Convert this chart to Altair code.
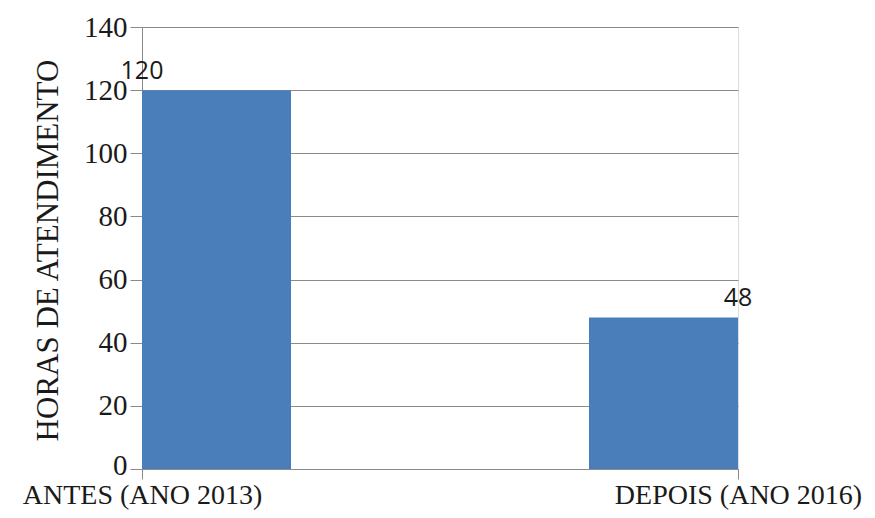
import altair as alt
import pandas as pd

categories = ["ANTES (ANO 2013)", "DEPOIS (ANO 2016)"]
values = [120, 48]
y_ticks = [0, 20, 40, 60, 80, 100, 120, 140]

df = pd.DataFrame({"cat": categories, "val": values})

label_expr = " : ".join(
    [f"datum.value == {i} ? '{c}'" for i, c in enumerate(categories[:-1])]
    + [f"'{categories[-1]}'"]
)

GRID = "#8a8a8a"
SERIF = "Liberation Serif, Times New Roman, serif"

base = alt.Chart(df).transform_window(
    rn="row_number()"
).transform_calculate(
    pos="datum.rn - 1",
    pos2="datum.rn == 1 ? 0.25 : 0.75",
)

x_scale = alt.Scale(domain=[0, 1], nice=False, zero=False)
y_scale = alt.Scale(domain=[0, 140], nice=False)

bars = base.mark_bar(color="#4a7ebb").encode(
    x=alt.X(
        "pos:Q",
        scale=x_scale,
        axis=alt.Axis(
            values=[0, 1],
            labelExpr=label_expr,
            title=None,
            grid=False,
            labelFlush=False,
            labelFont=SERIF,
            labelFontSize=28,
            labelColor="#1a1a1a",
            labelLimit=600,
            tickSize=10,
            tickColor=GRID,
            domainColor=GRID,
            labelPadding=2,
            labelOverlap=False,
        ),
    ),
    x2="pos2:Q",
    y=alt.Y(
        "val:Q",
        scale=y_scale,
        axis=alt.Axis(
            values=y_ticks,
            title="HORAS DE ATENDIMENTO",
            titleFont=SERIF,
            titleFontSize=31,
            titleFontWeight="normal",
            titleColor="#1a1a1a",
            titleAngle=-90,
            titleX=-94,
            titleY=223,
            titleAlign="center",
            titleBaseline="middle",
            titleLimit=600,
            labelFont=SERIF,
            labelFontSize=29,
            labelColor="#1a1a1a",
            labelPadding=3,
            labelOffset={"condition": {"test": "datum.value == 0", "value": -4}, "value": 0},
            tickSize=12,
            tickColor=GRID,
            domainColor=GRID,
            gridColor=GRID,
            gridOpacity=1,
        ),
    ),
    y2=alt.Y2Datum(0),
)

labels = base.mark_text(
    font="Open Sans", fontSize=25, baseline="bottom", dy=-6, color="#1a1a1a"
).encode(
    x=alt.X("pos:Q", scale=x_scale),
    y=alt.Y("val:Q", scale=y_scale),
    text="val:Q",
)

chart = (bars + labels).properties(
    width=596,
    height=442,
    autosize=alt.AutoSizeParams(type="none"),
    padding={"left": 134, "top": 19, "right": 129, "bottom": 41},
).configure_view(stroke=None).configure(background="white")

chart.save("out.html", embed_options={"renderer": "svg", "actions": False})
